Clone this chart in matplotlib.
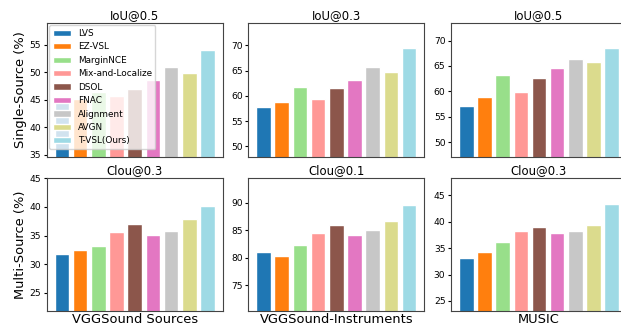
import matplotlib
matplotlib.use("Agg")
import matplotlib.pyplot as plt

methods = ["LVS", "EZ-VSL", "MarginNCE", "Mix-and-Localize", "DSOL",
           "FNAC", "Alignment", "AVGN", "T-VSL(Ours)"]
colors = ["#1f77b4", "#ff7f0e", "#98df8a", "#ff9896", "#8c564b",
          "#e377c2", "#c7c7c7", "#dbdb8d", "#9edae5"]

datasets = ["VGGSound Sources", "VGGSound-Instruments", "MUSIC"]
single_titles = ["IoU@0.5", "IoU@0.3", "IoU@0.5"]
multi_titles = ["Clou@0.3", "Clou@0.1", "Clou@0.3"]

single_vggsound = [44.6, 45.2, 46.5, 45.7, 46.9, 48.6, 51.0, 49.8, 54.0]
single_instruments = [57.9, 58.8, 61.8, 59.4, 61.6, 63.2, 65.8, 64.8, 69.5]
single_music = [57.1, 58.8, 63.3, 59.9, 62.7, 64.5, 66.4, 65.8, 68.5]

multi_vggsound = [31.8, 32.5, 33.2, 35.7, 37.0, 35.1, 35.8, 37.9, 40.1]
multi_instruments = [81.1, 80.3, 82.3, 84.5, 85.9, 84.1, 85.0, 86.7, 89.6]
multi_music = [33.1, 34.3, 36.1, 38.2, 38.9, 37.9, 38.3, 39.3, 43.3]

single = [single_vggsound, single_instruments, single_music]
multi = [multi_vggsound, multi_instruments, multi_music]

fig = plt.figure(figsize=(6.21, 3.25), dpi=100)
lefts = [0.0752, 0.3998, 0.7262]
w = 0.2834

for row, (vals_list, titles) in enumerate([(single, single_titles), (multi, multi_titles)]):
    bottom, h = (0.5169, 0.4132) if row == 0 else (0.0431, 0.410)
    for col in range(3):
        ax = fig.add_axes([lefts[col], bottom, w, h])
        vals = vals_list[col]
        x = range(len(vals))
        bars = ax.bar(x, vals, width=0.8, color=colors, edgecolor="white",
                      linewidth=1.0)
        # axis range follows the data: 10 below the min, 5 above the max
        ax.set_ylim(min(vals) - 10, max(vals) + 5)
        ax.set_xticks([])
        ax.tick_params(axis="y", labelsize=6.6, length=2.5, pad=1.5)
        ax.set_title(titles[col], fontsize=8.4, pad=3)
        for s in ax.spines.values():
            s.set_color("#444444")
            s.set_linewidth(0.8)
        if col == 0:
            ax.set_ylabel("Single-Source (%)" if row == 0 else "Multi-Source (%)",
                          fontsize=9.4, labelpad=2)
        if row == 1:
            ax.set_xlabel(datasets[col], fontsize=9.4, labelpad=1.5)
        if row == 0 and col == 0:
            ax.legend(bars, methods, loc="upper left", fontsize=6.4,
                      borderaxespad=0.3)

fig.savefig("out.png", dpi=100)
